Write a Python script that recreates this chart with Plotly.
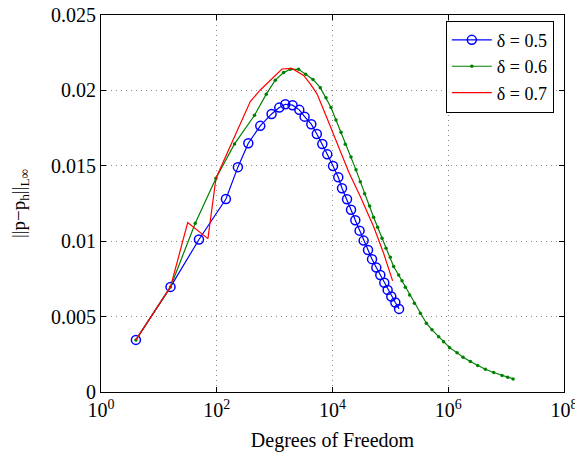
import plotly.graph_objects as go

# delta = 0.5
dof_05 = [4.01, 15.9, 49.3, 144, 232, 351, 565, 886, 1203, 1528, 2043, 2668, 3296, 4302,
          5356, 6665, 8128, 10210, 12590, 14590, 17820, 20890, 24780, 29380, 34510, 41110,
          48200, 57150, 67000, 78550, 89720, 103800, 121900, 141200]
err_05 = [0.003455, 0.00697, 0.01011, 0.01280, 0.01491, 0.01650, 0.01765, 0.01844, 0.01886,
          0.01908, 0.01902, 0.01871, 0.01826, 0.01776, 0.01711, 0.01645, 0.01576, 0.01499,
          0.01424, 0.01351, 0.01278, 0.01208, 0.01139, 0.01070, 0.01004, 0.00942, 0.00881,
          0.00825, 0.00776, 0.00725, 0.00677, 0.00633, 0.00593, 0.00551]

# delta = 0.6
dof_06 = [4.01, 15.9, 42.5, 96.9, 203, 450, 717, 1026, 1428, 1865, 2594, 3428, 4603, 6151,
          7724, 9420, 11490, 14030, 16640, 20890, 25470, 30250, 35890, 43750, 51290, 60250,
          71740, 84140, 99800, 113800, 138900, 159000, 181300, 215200, 259600, 329400,
          418500, 524500, 682600, 832600, 1057000, 1419000, 1803000, 2411000, 3222000,
          4375000, 6095000, 8511000, 10640000, 13190000]
err_06 = [0.003455, 0.00697, 0.01119, 0.01418, 0.01645, 0.01835, 0.01975, 0.02068, 0.02118,
          0.02140, 0.02140, 0.02107, 0.02073, 0.02018, 0.01952, 0.01886, 0.01804, 0.01723,
          0.01643, 0.01559, 0.01473, 0.01395, 0.01314, 0.01234, 0.01159, 0.01093, 0.01020,
          0.00954, 0.00894, 0.00832, 0.00776, 0.00737, 0.00695, 0.00644, 0.00589, 0.00523,
          0.00456, 0.00412, 0.00367, 0.00334, 0.00294, 0.00261, 0.00231, 0.00202, 0.00175,
          0.00151, 0.00129, 0.00109, 0.00098, 0.00087]

# delta = 0.7
dof_07 = [4.01, 15.9, 31.5, 70.4, 96.9, 162.5, 272.7, 379.4, 565, 959, 1340, 1995, 3164,
          4131, 5395, 7015, 9162, 11960, 15560, 18980, 30250, 51290, 76400, 109400]
err_07 = [0.003455, 0.00697, 0.01123, 0.01017, 0.01418, 0.01612, 0.01804, 0.01926, 0.02003,
          0.02091, 0.02142, 0.02146, 0.02099, 0.02043, 0.01977, 0.01871, 0.01760, 0.01650,
          0.01550, 0.01461, 0.01296, 0.01097, 0.00920, 0.00737]

x_tickvals = [1, 1e2, 1e4, 1e6, 1e8]
x_ticktext = ["10<sup>0</sup>", "10<sup>2</sup>", "10<sup>4</sup>", "10<sup>6</sup>", "10<sup>8</sup>"]
y_tickvals = [0, 0.005, 0.01, 0.015, 0.02, 0.025]
y_ticktext = ["0", "0.005", "0.01", "0.015", "0.02", "0.025"]

FONT = "Liberation Serif"

fig = go.Figure()
fig.add_trace(go.Scatter(x=dof_05, y=err_05, mode="lines+markers", name="δ = 0.5",
                         line=dict(color="#0000ff", width=1.2),
                         marker=dict(symbol="circle-open", size=9, color="#0000ff",
                                     line=dict(width=1.5, color="#0000ff"))))
fig.add_trace(go.Scatter(x=dof_06, y=err_06, mode="lines+markers", name="δ = 0.6",
                         line=dict(color="#008000", width=1.2),
                         marker=dict(symbol="circle", size=3.5, color="#008000")))
fig.add_trace(go.Scatter(x=dof_07, y=err_07, mode="lines", name="δ = 0.7",
                         line=dict(color="#ff0000", width=1.2)))

axis_common = dict(showline=True, linecolor="black", linewidth=1, mirror="ticks",
                   ticks="inside", ticklen=5, tickcolor="black",
                   ticklabeloverflow="allow",
                   showgrid=True, gridcolor="#888888", griddash="1px,4px", gridwidth=1,
                   zeroline=False, tickfont=dict(family=FONT, size=20, color="black"))

fig.update_xaxes(type="log", range=[0, 8], tickvals=x_tickvals, ticktext=x_ticktext,
                 automargin=False,
                 title=dict(text="Degrees of Freedom", font=dict(family=FONT, size=20, color="black"),
                            standoff=14),
                 **axis_common)
fig.update_yaxes(range=[0, 0.025], tickvals=y_tickvals, ticktext=y_ticktext,
                 automargin="left",
                 title=dict(text="||p−p<sub>h</sub>||<sub>L∞</sub>",
                            font=dict(family=FONT, size=19, color="black"), standoff=20),
                 **axis_common)

fig.update_layout(
    width=575, height=452,
    margin=dict(l=101, r=11, t=15, b=60),
    paper_bgcolor="white", plot_bgcolor="white",
    font=dict(family=FONT, color="black"),
    showlegend=True,
    legend=dict(x=0.978, y=0.985, xanchor="right", yanchor="top",
                bgcolor="white", bordercolor="black", borderwidth=1,
                font=dict(family=FONT, size=18, color="black"),
                tracegroupgap=0, itemwidth=40),
)

fig.write_html("out.html")
